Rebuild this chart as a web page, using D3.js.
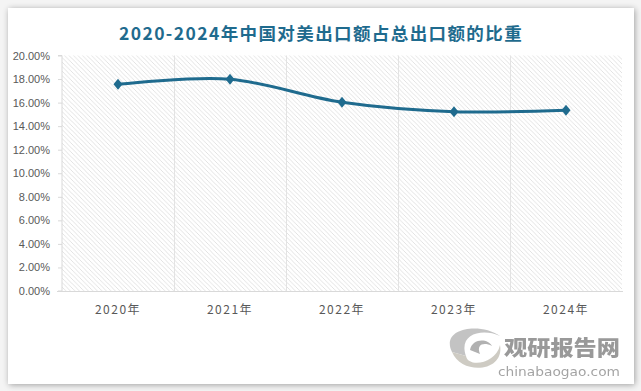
<!DOCTYPE html>
<html><head><meta charset="utf-8">
<script src="https://cdn.jsdelivr.net/npm/d3@7"></script>
<style>
html,body{margin:0;padding:0;background:#fff;}
svg{display:block;}
</style></head>
<body>
<svg id="chart" width="641" height="391"></svg>
<script>
const title = "2020-2024年中国对美出口额占总出口额的比重";
const categories = ["2020年","2021年","2022年","2023年","2024年"];
const values = [17.55, 17.98, 16.03, 15.23, 15.35];
const yTicks = [0,2,4,6,8,10,12,14,16,18,20];

const svg = d3.select("#chart");
const W = 641, H = 391;
const defs = svg.append("defs");

// card shadow
const f = defs.append("filter").attr("id","sh").attr("x","-5%").attr("y","-5%").attr("width","110%").attr("height","110%");
f.append("feGaussianBlur").attr("in","SourceAlpha").attr("stdDeviation",3);
f.append("feOffset").attr("dx",1).attr("dy",1).attr("result","b");
f.append("feComponentTransfer").append("feFuncA").attr("type","linear").attr("slope",0.35);
const m = f.append("feMerge"); m.append("feMergeNode"); m.append("feMergeNode").attr("in","SourceGraphic");

svg.append("rect").attr("width",W).attr("height",H).attr("fill","#f4f4f4");
svg.append("rect").attr("x",8).attr("y",8).attr("width",626).attr("height",376)
  .attr("fill","#fff").attr("filter","url(#sh)");

// hatch pattern
const p = defs.append("pattern").attr("id","hatch").attr("patternUnits","userSpaceOnUse")
  .attr("width",4.5).attr("height",4.5);
p.append("path").attr("d","M-1,-1 L5.5,5.5 M-1,3.5 L1,5.5 M3.5,-1 L5.5,1").attr("stroke","#d0d0d0").attr("stroke-width",0.6);

const x0 = 62, x1 = 622, yTop = 55.5, yBot = 291;

const x = d3.scaleBand().domain(categories).range([x0,x1]);
const y = d3.scaleLinear().domain([0,20]).range([yBot,yTop]);

svg.append("rect").attr("x",x0).attr("y",yTop).attr("width",x1-x0).attr("height",yBot-yTop)
  .attr("fill","url(#hatch)");

// vertical gridlines at category boundaries
svg.append("g").selectAll("line").data(categories.slice(1)).join("line")
  .attr("x1",d=>x(d)+0.5).attr("x2",d=>x(d)+0.5).attr("y1",yTop).attr("y2",yBot)
  .attr("stroke","#e3e3e3").attr("stroke-width",1);

// y axis
const ya = svg.append("g").attr("transform",`translate(${x0},0)`)
  .call(d3.axisLeft(y).tickValues(yTicks).tickSize(4).tickPadding(8).tickFormat(d=>d.toFixed(2)+"%"));
ya.select(".domain").attr("stroke","#d9d9d9").attr("d",`M-4,${yTop}H0V${yBot}H-4`);
ya.selectAll(".tick line").attr("stroke","#d9d9d9");
ya.selectAll("text").attr("fill","#595959").style("font-family","'Liberation Sans',Arial,sans-serif").style("font-size","11px");

// x axis
const xa = svg.append("g").attr("transform",`translate(0,${yBot})`)
  .call(d3.axisBottom(x).tickSize(0).tickPadding(14));
xa.select(".domain").attr("stroke","#d9d9d9").attr("d",`M57,0.5H${x1+1}`);
xa.selectAll("text").attr("fill","#595959").style("font-family","'Noto Sans CJK SC',sans-serif")
  .style("font-size","12px").style("letter-spacing","1.5px");

// line
const line = d3.line().x((d,i)=>x(categories[i])+x.bandwidth()/2).y(d=>y(d))
  .curve(d3.curveCatmullRom.alpha(0));
svg.append("path").datum(values).attr("d",line).attr("fill","none")
  .attr("stroke","#1f6b8e").attr("stroke-width",3).attr("stroke-linecap","round");
svg.append("g").selectAll("path").data(values).join("path")
  .attr("transform",(d,i)=>`translate(${x(categories[i])+x.bandwidth()/2},${y(d)})`)
  .attr("d","M0,-5.5L4.5,0L0,5.5L-4.5,0Z").attr("fill","#1f6b8e");

// title
svg.append("text").attr("x",321).attr("y",40).attr("text-anchor","middle")
  .attr("fill","#1f6b8e").style("font-family","'Noto Sans CJK SC',sans-serif")
  .style("font-size","17.5px").style("font-weight","bold").style("letter-spacing","1.4px").text(title);

// watermark
const wm = svg.append("g").attr("opacity",0.9);
wm.append("path").attr("d","M452,352 C440,328 480,322 500,336 C482,328 458,334 466,356 Z").attr("fill","#bdbdbd");
wm.append("path").attr("d","M452,352 C462,376 505,372 500,345 C496,364 468,368 466,356 Z").attr("fill","#c9c6bd");
wm.append("path").attr("d","M470,350 C472,338 488,338 492,346 C484,342 476,344 480,354 Z").attr("fill","#a9a9a9");
wm.append("text").attr("x",562).attr("y",355).attr("text-anchor","middle").attr("fill","#8f8f8f")
  .attr("textLength",116).attr("lengthAdjust","spacingAndGlyphs")
  .style("font-family","'Noto Sans CJK SC',sans-serif").style("font-size","21px").style("font-weight","900").text("观研报告网");
wm.append("text").attr("x",559).attr("y",376).attr("text-anchor","middle").attr("fill","#9a9a9a")
  .attr("textLength",122).attr("lengthAdjust","spacingAndGlyphs")
  .style("font-family","'DejaVu Sans',sans-serif").style("font-size","13px").text("chinabaogao.com");
</script>
</body></html>
